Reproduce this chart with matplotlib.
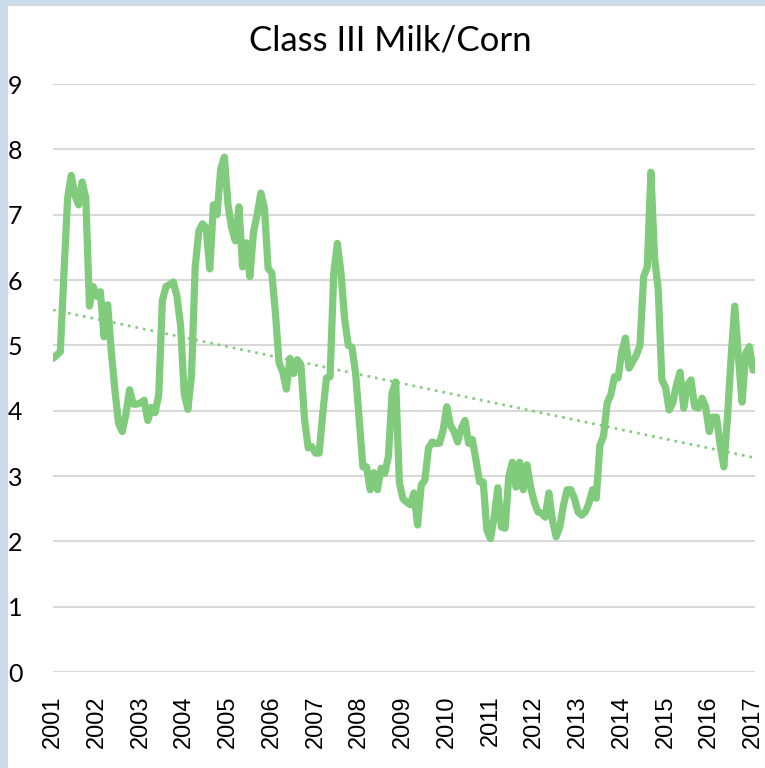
import numpy as np
import matplotlib
matplotlib.use("Agg")
import matplotlib.pyplot as plt
from matplotlib.patches import Rectangle

# Monthly Class III Milk / Corn price ratio, Jan 2001 .. Jan 2017
ratio = [
    # 2001
    4.80, 4.85, 4.90, 6.10, 7.25, 7.60, 7.30, 7.15, 7.50, 7.25, 5.60, 5.90,
    # 2002
    5.75, 5.82, 5.13, 5.62, 4.90, 4.30, 3.80, 3.68, 3.95, 4.32, 4.10, 4.10,
    # 2003
    4.12, 4.16, 3.85, 4.05, 3.97, 4.24, 5.69, 5.90, 5.93, 5.97, 5.75, 5.30,
    # 2004
    4.25, 4.02, 4.55, 6.20, 6.75, 6.86, 6.80, 6.17, 7.15, 7.00, 7.70, 7.88,
    # 2005
    7.15, 6.80, 6.60, 7.12, 6.20, 6.57, 6.05, 6.74, 7.00, 7.33, 7.10, 6.18,
    # 2006
    6.11, 5.50, 4.73, 4.60, 4.33, 4.80, 4.57, 4.78, 4.70, 3.86, 3.43, 3.45,
    # 2007
    3.35, 3.35, 3.96, 4.50, 4.52, 6.10, 6.56, 6.10, 5.40, 5.00, 4.97, 4.57,
    # 2008
    3.86, 3.14, 3.14, 2.79, 3.05, 2.79, 3.12, 3.04, 3.30, 4.27, 4.44, 2.90,
    # 2009
    2.65, 2.60, 2.56, 2.74, 2.25, 2.86, 2.94, 3.43, 3.52, 3.50, 3.50, 3.70,
    # 2010
    4.06, 3.78, 3.68, 3.52, 3.73, 3.85, 3.50, 3.56, 3.25, 2.91, 2.91, 2.17,
    # 2011
    2.04, 2.37, 2.82, 2.22, 2.20, 2.99, 3.21, 2.83, 3.21, 2.79, 3.17, 2.83,
    # 2012
    2.60, 2.45, 2.43, 2.37, 2.74, 2.32, 2.07, 2.22, 2.55, 2.79, 2.79, 2.66,
    # 2013
    2.45, 2.40, 2.45, 2.58, 2.79, 2.66, 3.47, 3.61, 4.12, 4.24, 4.52, 4.50,
    # 2014
    4.90, 5.11, 4.65, 4.75, 4.85, 5.00, 6.05, 6.20, 7.65, 6.35, 5.85, 4.47,
    # 2015
    4.36, 4.01, 4.12, 4.39, 4.59, 4.04, 4.39, 4.47, 4.06, 4.04, 4.19, 4.06,
    # 2016
    3.68, 3.90, 3.90, 3.47, 3.14, 3.90, 4.82, 5.60, 4.82, 4.13, 4.88, 4.98,
    # 2017
    4.62,
]
years = list(range(2001, 2018))
yticks = list(range(0, 10))
title = "Class III Milk/Corn"

W, H = 765, 768
fig = plt.figure(figsize=(W / 100, H / 100), dpi=100)
fig.patch.set_facecolor("#ccdcea")
fig.patches.append(Rectangle((7 / W, 0), 1 - 7 / W, 1 - 5 / H, transform=fig.transFigure,
                             facecolor="white", edgecolor="#d9d9d9", linewidth=0.8, zorder=-5))

ax = fig.add_axes([53 / W, 1 - 672 / H, (755 - 53) / W, (672 - 84) / H])
ax.set_zorder(2)
ax.set_facecolor("none")

months = np.arange(len(ratio))
vals = np.array(ratio)
green = "#80cc7c"

ax.plot(months, vals, color=green, lw=5.2, solid_joinstyle="round", solid_capstyle="round", zorder=3)

coef = np.polyfit(months, vals, 1)
ax.plot(months, np.polyval(coef, months), color=green, lw=1.9,
        linestyle=(0, (1, 1.9)), zorder=2)

ax.set_xlim(0, 192.55)
ax.set_ylim(0, 9)
ax.set_yticks(yticks)
ax.set_yticklabels([str(v) for v in yticks], fontsize=18, family="Lato")
ax.set_xticks([12 * i for i in range(len(years))])
ax.set_xticklabels([str(y) for y in years], rotation=90, fontsize=17,
                   family="Liberation Sans")
ax.tick_params(axis="both", length=0)
ax.tick_params(axis="y", pad=22)
ax.tick_params(axis="x", pad=17)
ax.grid(axis="y", color="#d9d9d9", lw=1.5)
ax.set_axisbelow(True)
for s in ax.spines.values():
    s.set_visible(False)

fig.text(390 / W, 1 - 40 / H, title, ha="center", va="center", fontsize=25, family="Lato")

fig.savefig("out.png", dpi=100, facecolor=fig.get_facecolor())
